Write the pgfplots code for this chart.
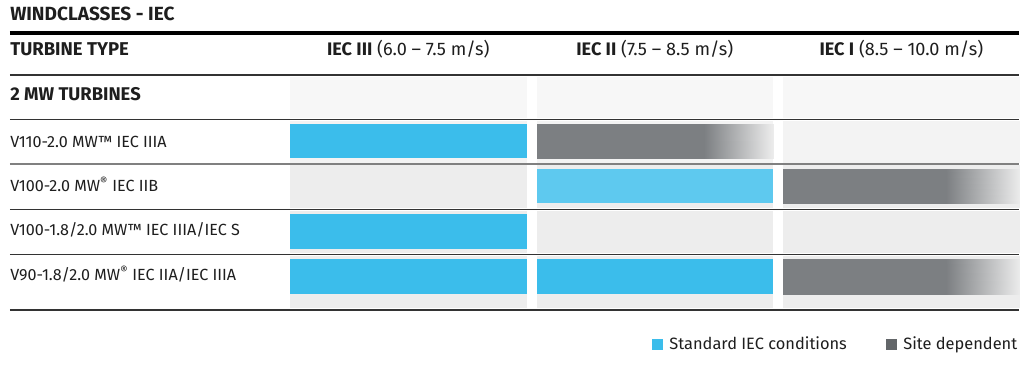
\documentclass[border=0pt]{standalone}
\usepackage{fontspec}
\setmainfont{Fira Sans}
\usepackage{pgfplots}
\pgfplotsset{compat=1.18}

\definecolor{iecblue}{HTML}{3BBDEB}
\definecolor{iecbluelt}{HTML}{5EC9EF}
\definecolor{sitegrey}{HTML}{7C7F82}
\definecolor{fadeend}{HTML}{ECECEC}
\definecolor{legendgrey}{HTML}{636669}
\definecolor{cellA}{HTML}{F7F7F7}
\definecolor{cellB}{HTML}{F3F3F3}
\definecolor{cellC}{HTML}{EDEDED}
\definecolor{rulecol}{HTML}{333333}
\definecolor{txt}{HTML}{1E1E1E}

% site-dependent bar: solid grey that fades out over its last part
% (meta 0 = solid grey, meta 1 = faded)
\pgfplotsset{sitebar/.style={patch, shader=interp, point meta=explicit, forget plot}}

\begin{document}
\begin{tikzpicture}[font=\fontsize{12.1}{14}\selectfont, text=txt]
\begin{axis}[
  scale only axis, width=774pt, height=273.75pt,
  xmin=-1.1765, xmax=3.010, ymin=0, ymax=365, y dir=reverse,
  axis lines=none, clip=false,
  colormap={fadegrey}{color=(sitegrey) color=(fadeend)},
  point meta min=0, point meta max=1,
  legend columns=2,
  legend cell align=left,
  legend style={at={(axis cs:2.962,344)}, anchor=east, draw=none, fill=none,
    inner sep=0pt, font=\fontsize{12.3}{14}\selectfont\color{rulecol},
    /tikz/every even column/.append style={column sep=27pt}},
]
\path (rel axis cs:0,0) rectangle (rel axis cs:1,1);
% ---- cell backgrounds: three wind-class columns per row ----
% 2 MW TURBINES
\addplot[fill=cellA, draw=none, forget plot] coordinates {(0,77) (0.96,77) (0.96,118) (0,118)} --cycle;
\addplot[fill=cellA, draw=none, forget plot] coordinates {(1,77) (1.96,77) (1.96,118) (1,118)} --cycle;
\addplot[fill=cellA, draw=none, forget plot] coordinates {(2,77) (2.96,77) (2.96,118) (2,118)} --cycle;
% V110
\addplot[fill=cellB, draw=none, forget plot] coordinates {(0,121) (0.96,121) (0.96,163) (0,163)} --cycle;
\addplot[fill=cellB, draw=none, forget plot] coordinates {(1,121) (1.96,121) (1.96,163) (1,163)} --cycle;
\addplot[fill=cellB, draw=none, forget plot] coordinates {(2,121) (2.96,121) (2.96,163) (2,163)} --cycle;
% V100-2.0
\addplot[fill=cellC, draw=none, forget plot] coordinates {(0,165) (0.96,165) (0.96,208) (0,208)} --cycle;
\addplot[fill=cellC, draw=none, forget plot] coordinates {(1,165) (1.96,165) (1.96,208) (1,208)} --cycle;
\addplot[fill=cellC, draw=none, forget plot] coordinates {(2,165) (2.96,165) (2.96,208) (2,208)} --cycle;
% V100-1.8
\addplot[fill=cellC, draw=none, forget plot] coordinates {(0,211) (0.96,211) (0.96,253) (0,253)} --cycle;
\addplot[fill=cellC, draw=none, forget plot] coordinates {(1,211) (1.96,211) (1.96,253) (1,253)} --cycle;
\addplot[fill=cellC, draw=none, forget plot] coordinates {(2,211) (2.96,211) (2.96,253) (2,253)} --cycle;
% V90
\addplot[fill=cellC, draw=none, forget plot] coordinates {(0,256) (0.96,256) (0.96,308) (0,308)} --cycle;
\addplot[fill=cellC, draw=none, forget plot] coordinates {(1,256) (1.96,256) (1.96,308) (1,308)} --cycle;
\addplot[fill=cellC, draw=none, forget plot] coordinates {(2,256) (2.96,256) (2.96,308) (2,308)} --cycle;

% ---- class bars ----
% V110-2.0 MW: IEC III standard, IEC II site dependent
\addplot[fill=iecblue, draw=none, forget plot] coordinates {(0,124) (0.96,124) (0.96,158) (0,158)} --cycle;
\addplot[sitebar] coordinates {
  (1,124) [0] (1.68,124) [0] (1.68,158) [0]
  (1,124) [0] (1.68,158) [0] (1,158) [0]
  (1.68,124) [0] (1.96,124) [1] (1.96,158) [1]
  (1.68,124) [0] (1.96,158) [1] (1.68,158) [0]};
% V100-2.0 MW: IEC II standard, IEC I site dependent
\addplot[fill=iecbluelt, draw=none, forget plot] coordinates {(1,169) (1.96,169) (1.96,203) (1,203)} --cycle;
\addplot[sitebar] coordinates {
  (2,169) [0] (2.66,169) [0] (2.66,203) [0]
  (2,169) [0] (2.66,203) [0] (2,203) [0]
  (2.66,169) [0] (2.96,169) [1] (2.96,203) [1]
  (2.66,169) [0] (2.96,203) [1] (2.66,203) [0]};
% V100-1.8/2.0 MW: IEC III standard
\addplot[fill=iecblue, draw=none, forget plot] coordinates {(0,214) (0.96,214) (0.96,249) (0,249)} --cycle;
% V90-1.8/2.0 MW: IEC III and IEC II standard, IEC I site dependent
\addplot[fill=iecblue, draw=none, forget plot] coordinates {(0,259) (0.96,259) (0.96,294) (0,294)} --cycle;
\addplot[fill=iecblue, draw=none, forget plot] coordinates {(1,259) (1.96,259) (1.96,294) (1,294)} --cycle;
\addplot[sitebar] coordinates {
  (2,259) [0] (2.66,259) [0] (2.66,294) [0]
  (2,259) [0] (2.66,294) [0] (2,294) [0]
  (2.66,259) [0] (2.96,259) [1] (2.96,294) [1]
  (2.66,259) [0] (2.96,294) [1] (2.66,294) [0]};

% ---- legend ----
\addlegendimage{legend image code/.code={\fill[iecblue] (0pt,-3.9pt) rectangle (7.8pt,3.9pt); \path (11pt,0pt);}}
\addlegendentry{Standard IEC conditions}
\addlegendimage{legend image code/.code={\fill[legendgrey] (0pt,-3.9pt) rectangle (7.8pt,3.9pt); \path (11pt,0pt);}}
\addlegendentry{Site dependent}

% ---- table rules ----
\draw[line width=3pt, black] (axis cs:-1.136,33) -- (axis cs:2.957,33);
\draw[line width=0.9pt, rulecol] (axis cs:-1.136,75) -- (axis cs:2.957,75);
\draw[line width=0.9pt, rulecol] (axis cs:-1.136,119.5) -- (axis cs:2.957,119.5);
\draw[line width=0.9pt, gray] (axis cs:-1.136,164) -- (axis cs:2.957,164);
\draw[line width=1.4pt, rulecol] (axis cs:-1.136,209.5) -- (axis cs:2.957,209.5);
\draw[line width=1.4pt, rulecol] (axis cs:-1.136,254.5) -- (axis cs:2.957,254.5);
\draw[line width=1.4pt, rulecol] (axis cs:-1.136,310) -- (axis cs:2.957,310);

% ---- text ----
\node[anchor=base west, inner sep=0pt, font=\fontsize{14.3}{16}\selectfont\bfseries] at (axis cs:-1.136,20) {WINDCLASSES - IEC};
\node[anchor=base west, inner sep=0pt, font=\fontsize{13.9}{16}\selectfont\bfseries] at (axis cs:-1.136,55) {TURBINE TYPE};
\node[anchor=base, inner sep=0pt, font=\fontsize{13.6}{16}\selectfont] at (axis cs:0.48,55) {\textbf{IEC III} (6.0 – 7.5 m/s)};
\node[anchor=base, inner sep=0pt, font=\fontsize{13.6}{16}\selectfont] at (axis cs:1.48,55) {\textbf{IEC II} (7.5 – 8.5 m/s)};
\node[anchor=base, inner sep=0pt, font=\fontsize{13.6}{16}\selectfont] at (axis cs:2.48,55) {\textbf{IEC I} (8.5 – 10.0 m/s)};
\node[anchor=base west, inner sep=0pt, font=\fontsize{13.8}{16}\selectfont\bfseries] at (axis cs:-1.136,100) {2 MW TURBINES};
\node[anchor=base west, inner sep=0pt] at (axis cs:-1.136,147) {V110-2.0 MW™ IEC IIIA};
\node[anchor=base west, inner sep=0pt] at (axis cs:-1.136,191) {V100-2.0 MW\textsuperscript{®} IEC IIB};
\node[anchor=base west, inner sep=0pt] at (axis cs:-1.136,235) {V100-1.8/2.0 MW™ IEC IIIA/IEC S};
\node[anchor=base west, inner sep=0pt] at (axis cs:-1.136,280) {V90-1.8/2.0 MW\textsuperscript{®} IEC IIA/IEC IIIA};
\end{axis}
\end{tikzpicture}
\end{document}
